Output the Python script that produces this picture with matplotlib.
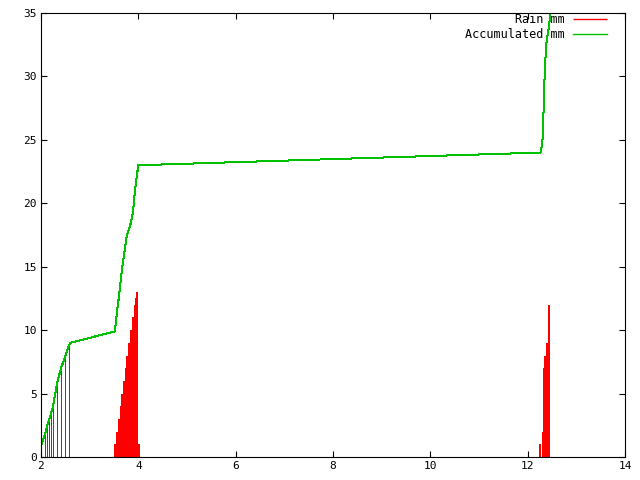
import matplotlib as mpl
import matplotlib.pyplot as plt

mpl.rcParams['font.family'] = 'DejaVu Sans Mono'
mpl.rcParams['font.size'] = 8.5

# rain impulses (time, mm)
rain_t = [2.006, 2.088, 2.130, 2.171, 2.212, 2.247, 2.329, 2.412, 2.494, 2.576,
          3.523, 3.564, 3.599, 3.634, 3.667, 3.696, 3.737, 3.770, 3.811, 3.846,
          3.881, 3.922, 3.943, 3.963, 4.010,
          12.253, 12.315, 12.336, 12.356, 12.391, 12.447]
rain_mm = [1.0, 1.9, 2.5, 3.0, 3.5, 4.0, 5.8, 7.0, 7.9, 8.8,
           1.0, 2.0, 3.0, 4.0, 5.0, 6.0, 7.0, 8.0, 9.0, 10.0,
           11.0, 12.0, 12.5, 13.0, 1.0,
           1.0, 2.0, 7.0, 8.0, 9.0, 12.0]

# accumulated rain
acc_t = [2.0, 2.088, 2.130, 2.171, 2.212, 2.247, 2.329, 2.412, 2.494, 2.576, 2.6,
         3.52, 3.54, 3.57, 3.61, 3.66, 3.69, 3.73, 3.76, 3.80, 3.85, 3.89, 3.93,
         3.97, 4.0, 12.27, 12.31, 12.35, 12.38, 12.44, 12.5]
acc_mm = [0.9, 1.9, 2.5, 3.0, 3.5, 4.0, 5.8, 7.0, 7.9, 8.8, 9.0,
          9.9, 10.7, 11.7, 12.9, 14.7, 15.5, 16.6, 17.4, 17.9, 18.5, 19.3, 21.0,
          22.2, 23.0, 24.0, 25.2, 30.3, 32.5, 34.0, 36.5]

fig = plt.figure(figsize=(6.4, 4.8), dpi=100)
ax = fig.add_axes([41 / 640, 1 - 457 / 480, 584 / 640, 444 / 480])

# the early impulses are single pixel, the later showers look doubled
widths = [0.72 if t < 3 else 1.44 for t in rain_t]
ax.vlines(rain_t, 0, rain_mm, color='#ff0000', linewidths=widths, antialiased=False,
          label="       Rain mm")
ax.plot(acc_t, acc_mm, color='#00c000', linewidth=0.72, antialiased=False,
        label="Accumulated mm")

ax.set_xlim(2, 14)
ax.set_ylim(0, 35)
ax.set_xticks(range(2, 15, 2))
ax.set_yticks(range(0, 36, 5))
ax.tick_params(direction='in', length=4, width=0.8, top=True, right=True, pad=3,
               labelsize=8)
for s in ax.spines.values():
    s.set_linewidth(0.8)

leg = ax.legend(loc='upper right', bbox_to_anchor=(607 / 640, 1 - 13 / 480),
                bbox_transform=fig.transFigure, frameon=False, markerfirst=False,
                borderpad=0, borderaxespad=0, handlelength=2.9, handletextpad=0.7,
                labelspacing=0.2)
leg.legend_handles[0].set_linewidth(1.0)
leg.legend_handles[1].set_linewidth(1.0)

fig.savefig("out.png", dpi=100)
